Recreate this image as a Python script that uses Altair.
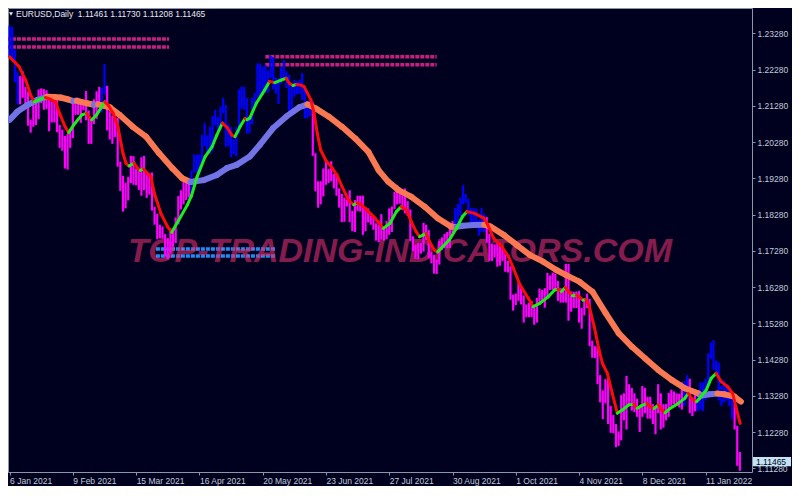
import altair as alt
import pandas as pd

# ---------------- data ----------------
# daily bars, index 0 = 6 Jan 2021 ... index 277 = 28 Jan 2022 (weekdays)
highs = [
    1.2349, 1.2345, 1.2283,
    1.2223, 1.2210, 1.2223, 1.2180, 1.2167,
    1.2090, 1.2145, 1.2138, 1.2173, 1.2176,
    1.2174, 1.2171, 1.2161, 1.2140, 1.2156,
    1.2144, 1.2075, 1.2062, 1.2045, 1.2050,
    1.2061, 1.2134, 1.2150, 1.2150, 1.2140,
    1.2145, 1.2169, 1.2115, 1.2095, 1.2146,
    1.2168, 1.2180, 1.2178, 1.2243, 1.2183,
    1.2113, 1.2100, 1.2113, 1.2095, 1.1974,
    1.1935, 1.1916, 1.1932, 1.1990, 1.1989,
    1.1955, 1.1952, 1.1986, 1.1990, 1.1943,
    1.1942, 1.1944, 1.1849, 1.1830, 1.1800,
    1.1795, 1.1774, 1.1763, 1.1791, 1.1789,
    1.1820, 1.1879, 1.1895, 1.1927, 1.1929,
    1.1919, 1.1949, 1.1994, 1.1993, 1.1994,
    1.2048, 1.2080, 1.2046, 1.2070, 1.2100,
    1.2117, 1.2097, 1.2126, 1.2150, 1.2130,
    1.2077, 1.2069, 1.2036, 1.2070, 1.2173,
    1.2181, 1.2180, 1.2150, 1.2096, 1.2150,
    1.2163, 1.2245, 1.2245, 1.2236, 1.2240,
    1.2225, 1.2266, 1.2262, 1.2206, 1.2204,
    1.2235, 1.2254, 1.2223, 1.2213, 1.2184,
    1.2200, 1.2196, 1.2199, 1.2218, 1.2180,
    1.2128, 1.2144, 1.2138, 1.1997, 1.1920,
    1.1920, 1.1955, 1.1975, 1.1954, 1.1975,
    1.1940, 1.1935, 1.1900, 1.1885, 1.1875,
    1.1870, 1.1895, 1.1838, 1.1868, 1.1880,
    1.1880, 1.1880, 1.1848, 1.1845, 1.1825,
    1.1821, 1.1804, 1.1800, 1.1829, 1.1790,
    1.1810, 1.1845, 1.1850, 1.1891, 1.1909,
    1.1892, 1.1884, 1.1900, 1.1865, 1.1842,
    1.1768, 1.1745, 1.1750, 1.1750, 1.1805,
    1.1800, 1.1785, 1.1725, 1.1717, 1.1703,
    1.1755, 1.1765, 1.1775, 1.1780, 1.1802,
    1.1810, 1.1846, 1.1857, 1.1875, 1.1909,
    1.1885, 1.1872, 1.1845, 1.1846, 1.1845,
    1.1813, 1.1846, 1.1830, 1.1821, 1.1775,
    1.1748, 1.1746, 1.1750, 1.1750, 1.1737,
    1.1720, 1.1700, 1.1685, 1.1607, 1.1610,
    1.1640, 1.1625, 1.1605, 1.1580, 1.1585,
    1.1590, 1.1575, 1.1598, 1.1624, 1.1620,
    1.1625, 1.1667, 1.1660, 1.1668, 1.1665,
    1.1645, 1.1625, 1.1620, 1.1692, 1.1692,
    1.1616, 1.1615, 1.1616, 1.1617, 1.1570,
    1.1595, 1.1610, 1.1595, 1.1480, 1.1465,
    1.1465, 1.1385, 1.1343, 1.1374, 1.1375,
    1.1300, 1.1275, 1.1250, 1.1230, 1.1330,
    1.1335, 1.1383, 1.1360, 1.1350, 1.1335,
    1.1320, 1.1295, 1.1355, 1.1350, 1.1325,
    1.1325, 1.1305, 1.1300, 1.1360, 1.1335,
    1.1305, 1.1305, 1.1336, 1.1345, 1.1340,
    1.1335, 1.1334, 1.1365, 1.1369, 1.1385,
    1.1375, 1.1320, 1.1345, 1.1330, 1.1365,
    1.1365, 1.1375, 1.1445, 1.1475, 1.1482,
    1.1425, 1.1420, 1.1355, 1.1370, 1.1360,
    1.1350, 1.1330, 1.1305, 1.1245, 1.1173,
]
lows = [
    1.2263, 1.2255, 1.2193,
    1.2132, 1.2132, 1.2150, 1.2128, 1.2073,
    1.2054, 1.2070, 1.2075, 1.2091, 1.2136,
    1.2117, 1.2119, 1.2058, 1.2082, 1.2082,
    1.2055, 1.2012, 1.2004, 1.1955, 1.1952,
    1.2012, 1.2039, 1.2103, 1.2103, 1.2081,
    1.2116, 1.2088, 1.2023, 1.2023, 1.2078,
    1.2092, 1.2131, 1.2110, 1.2160, 1.2060,
    1.2035, 1.2023, 1.2042, 1.1960, 1.1893,
    1.1836, 1.1845, 1.1867, 1.1915, 1.1910,
    1.1909, 1.1896, 1.1880, 1.1895, 1.1874,
    1.1883, 1.1839, 1.1800, 1.1760, 1.1762,
    1.1761, 1.1712, 1.1704, 1.1720, 1.1739,
    1.1749, 1.1801, 1.1842, 1.1856, 1.1868,
    1.1875, 1.1872, 1.1943, 1.1944, 1.1939,
    1.1972, 1.2017, 1.2000, 1.1995, 1.2003,
    1.2074, 1.2058, 1.2061, 1.2108, 1.2015,
    1.2016, 1.1986, 1.1995, 1.1988, 1.2050,
    1.2120, 1.2117, 1.2052, 1.2052, 1.2077,
    1.2129, 1.2150, 1.2152, 1.2163, 1.2165,
    1.2164, 1.2205, 1.2174, 1.2162, 1.2133,
    1.2188, 1.2200, 1.2177, 1.2104, 1.2103,
    1.2153, 1.2160, 1.2161, 1.2144, 1.2093,
    1.2093, 1.2100, 1.1990, 1.1892, 1.1847,
    1.1856, 1.1878, 1.1910, 1.1915, 1.1920,
    1.1900, 1.1880, 1.1847, 1.1807, 1.1808,
    1.1850, 1.1807, 1.1782, 1.1780, 1.1838,
    1.1836, 1.1772, 1.1782, 1.1806, 1.1800,
    1.1786, 1.1756, 1.1752, 1.1760, 1.1756,
    1.1760, 1.1772, 1.1780, 1.1843, 1.1856,
    1.1858, 1.1840, 1.1831, 1.1824, 1.1755,
    1.1727, 1.1706, 1.1705, 1.1720, 1.1726,
    1.1758, 1.1707, 1.1694, 1.1665, 1.1664,
    1.1690, 1.1730, 1.1735, 1.1735, 1.1736,
    1.1776, 1.1790, 1.1800, 1.1825, 1.1856,
    1.1860, 1.1825, 1.1805, 1.1800, 1.1800,
    1.1770, 1.1780, 1.1780, 1.1750, 1.1700,
    1.1700, 1.1710, 1.1684, 1.1687, 1.1700,
    1.1670, 1.1668, 1.1593, 1.1563, 1.1578,
    1.1590, 1.1580, 1.1530, 1.1545, 1.1545,
    1.1545, 1.1524, 1.1530, 1.1580, 1.1590,
    1.1571, 1.1600, 1.1620, 1.1620, 1.1618,
    1.1590, 1.1585, 1.1585, 1.1585, 1.1535,
    1.1560, 1.1570, 1.1570, 1.1530, 1.1513,
    1.1550, 1.1570, 1.1465, 1.1433, 1.1432,
    1.1360, 1.1310, 1.1264, 1.1307, 1.1250,
    1.1226, 1.1225, 1.1186, 1.1190, 1.1205,
    1.1260, 1.1235, 1.1300, 1.1287, 1.1283,
    1.1270, 1.1228, 1.1270, 1.1280, 1.1265,
    1.1265, 1.1250, 1.1222, 1.1280, 1.1235,
    1.1240, 1.1260, 1.1270, 1.1300, 1.1305,
    1.1300, 1.1296, 1.1290, 1.1300, 1.1320,
    1.1280, 1.1272, 1.1285, 1.1285, 1.1290,
    1.1286, 1.1315, 1.1355, 1.1430, 1.1400,
    1.1385, 1.1315, 1.1300, 1.1310, 1.1315,
    1.1300, 1.1265, 1.1235, 1.1135, 1.1121,
]
# bar index ranges drawn in blue (uptrend); others magenta
blue_runs = [(0, 3), (35, 36), (69, 114), (169, 180), (256, 257), (261, 274)]

# fast line (red falling / green rising)
fast_idx = [0, 3.6, 6.1, 8, 9.3, 11.5, 13.6, 15.5, 17.4, 19.2, 21.1, 22.4, 24.3, 27.4,
            29.2, 31.1, 33, 36.1, 37.4, 39.3, 41.1, 43, 44.2, 45.3, 47.2, 48.7, 49.6,
            50.8, 52.5, 53.6, 54.9, 57.4, 59.9, 61.5, 64.2, 67.4, 69, 71.1, 74.2, 76.8,
            78.6, 80.7, 82.5, 84.3, 85.5, 87.4, 89.3, 90.1, 91.1, 93.6, 96.8, 98.6,
            100.6, 103, 104.9, 106.1, 107.5, 108.9, 110.5, 111.7, 113, 114.3, 115.5,
            116.7, 118, 119.9, 122.4, 124.2, 126.1, 128.6, 130.5, 131.8, 133, 134.9,
            138.6, 140, 141.75, 144.3, 146.7, 148.6, 150.5, 152.4, 154.2, 155.5, 157,
            158, 159.3, 161.1, 162.4, 164.9, 166.8, 169.9, 171.75, 173.4, 176.1, 179.9,
            181.1, 183.6, 186.75, 189.25, 191.1, 193.6, 196.75, 198.6, 201.1, 204.25,
            206.75, 208, 209.25, 210.75, 211.75, 213.5, 215, 216.1, 217.5, 218.6, 219.9,
            221.75, 223.6, 224.9, 226.75, 228.6, 230.5, 232.4, 234.9, 236.75, 238,
            239.5, 241.75, 243, 244.5, 246.1, 247.4, 248.6, 250.5, 253.6, 256.1, 257.4,
            259, 260.5, 261.75, 264.25, 266.1, 268, 269.9, 272.4, 274.25, 275.5, 277.1]
fast_val = [1.2263, 1.2236, 1.2199, 1.2158, 1.2139, 1.2146, 1.2151, 1.2146, 1.2139,
            1.2103, 1.2070, 1.2054, 1.2075, 1.2103, 1.2107, 1.2089, 1.2103, 1.2139,
            1.2130, 1.2107, 1.2070, 1.1997, 1.1969, 1.1962, 1.1970, 1.1955, 1.1950,
            1.1954, 1.1940, 1.1932, 1.1887, 1.1831, 1.1795, 1.1779, 1.1813, 1.1854,
            1.1880, 1.1932, 1.1988, 1.2015, 1.2047, 1.2080, 1.2068, 1.2047, 1.2043,
            1.2070, 1.2093, 1.2090, 1.2094, 1.2135, 1.2172, 1.2195, 1.2192, 1.2199,
            1.2204, 1.2190, 1.2184, 1.2187, 1.2185, 1.2181, 1.2163, 1.2144, 1.2107,
            1.2052, 1.2006, 1.1978, 1.1956, 1.1937, 1.1905, 1.1868, 1.1855, 1.1860,
            1.1858, 1.1845, 1.1818, 1.1806, 1.1790, 1.1804, 1.1836, 1.1850, 1.1841,
            1.1808, 1.1781, 1.1767, 1.1772, 1.1776, 1.1753, 1.1730, 1.1725, 1.1744,
            1.1758, 1.1795, 1.1822, 1.1836, 1.1832, 1.1818, 1.1804, 1.1763, 1.1739,
            1.1712, 1.1680, 1.1634, 1.1597, 1.1574, 1.1583, 1.1601, 1.1620, 1.1622,
            1.1615, 1.1627, 1.1618, 1.1604, 1.1606, 1.1601, 1.1592, 1.1594, 1.1574,
            1.1519, 1.1454, 1.1417, 1.1390, 1.1335, 1.1280, 1.1289, 1.1303, 1.1305,
            1.1293, 1.1300, 1.1307, 1.1298, 1.1293, 1.1303, 1.1289, 1.1281, 1.1293,
            1.1307, 1.1321, 1.1335, 1.1318, 1.1312, 1.1321, 1.1344, 1.1376, 1.1390,
            1.1367, 1.1353, 1.1335, 1.1298, 1.1252]

# slow line (salmon falling / slate blue rising)
slow_idx = [0, 3, 6.75, 10.5, 14.25, 17, 19.25, 22, 24.25, 25.5, 27, 29.25, 32, 33.6,
            35, 38, 41.75, 46.75, 51.75, 56.75, 61.75, 65.5, 68.6, 70, 73.6, 78.6,
            82.4, 86.1, 91.1, 94.9, 99.9, 104.9, 109.9, 113, 116.1, 121.1, 126.1,
            131.1, 136.1, 140, 143.6, 147.4, 152.4, 157.4, 162.4, 167.4, 169.5, 172,
            176, 180, 182.4, 187.4, 192.4, 197.4, 202.4, 207.4, 211.1, 216.1, 221.1,
            226.1, 231.1, 236.1, 241.1, 246.1, 251.1, 256.1, 261.1, 262.4, 265.5,
            268.5, 271.1, 274.9, 277.4]
slow_val = [1.2089, 1.2112, 1.2130, 1.2144, 1.2153, 1.2152, 1.2151, 1.2146, 1.2141,
            1.2142, 1.2139, 1.2135, 1.2131, 1.2132, 1.2129, 1.2124, 1.2103, 1.2070,
            1.2043, 1.1997, 1.1956, 1.1928, 1.1918, 1.1919, 1.1923, 1.1937, 1.1956,
            1.1965, 1.1988, 1.2020, 1.2066, 1.2098, 1.2124, 1.2132, 1.2121, 1.2098,
            1.2070, 1.2038, 1.2001, 1.1950, 1.1919, 1.1896, 1.1877, 1.1850, 1.1818,
            1.1795, 1.1794, 1.1797, 1.1799, 1.1800, 1.1795, 1.1772, 1.1744, 1.1716,
            1.1698, 1.1675, 1.1661, 1.1643, 1.1615, 1.1556, 1.1500, 1.1463, 1.1431,
            1.1399, 1.1372, 1.1349, 1.1335, 1.1329, 1.1332, 1.1334, 1.1332, 1.1326,
            1.1312]

# horizontal indicator levels
level_price = [1.23123, 1.22902, 1.22635, 1.22414, 1.17330, 1.17137]
level_from = [-1.0, -1.0, 97.0, 97.0, 55.5, 55.5]
level_to = [60.5, 60.5, 162.0, 162.0, 100.8, 100.8]
level_kind = ["res", "res", "res", "res", "sup", "sup"]

tick_bars = [0, 24, 48, 72, 96, 120, 144, 168, 192, 216, 240, 264]
tick_labels = ["6 Jan 2021", "9 Feb 2021", "15 Mar 2021", "16 Apr 2021", "20 May 2021",
               "23 Jun 2021", "27 Jul 2021", "30 Aug 2021", "1 Oct 2021", "4 Nov 2021",
               "8 Dec 2021", "11 Jan 2022"]
price_ticks = [1.1128, 1.1228, 1.1328, 1.1428, 1.1528, 1.1628, 1.1728, 1.1828,
               1.1928, 1.2028, 1.2128, 1.2228, 1.2328]
last_close = 1.11465
title_text = "EURUSD,Daily\u00a0 1.11461 1.11730 1.11208 1.11465"
watermark = "TOP-TRADING-INDICATORS.COM"

# ---------------- styling ----------------
BG = "#00001f"
FRAME = "#8898a8"
LABEL = "#c0ccd8"
FONT = "Liberation Sans"
W, H = 744, 464

xs = alt.Scale(domain=[-0.6, 281.6], nice=False, zero=False)
ys = alt.Scale(domain=[1.23978 - H / 3625.0, 1.23978], nice=False, zero=False)

bars = pd.DataFrame({"i": list(range(len(highs))), "hi": highs, "lo": lows})
bars["c"] = ["#0000ff" if any(a <= i <= b for a, b in blue_runs) else "#ff00ff"
             for i in bars["i"]]


def segments(idx, val, up, down):
    rows = []
    for k in range(len(idx) - 1):
        c = up if val[k + 1] > val[k] else down
        rows.append({"seg": k, "i": idx[k], "p": val[k], "c": c})
        rows.append({"seg": k, "i": idx[k + 1], "p": val[k + 1], "c": c})
    return pd.DataFrame(rows)


fast = segments(fast_idx, fast_val, "#19f019", "#ff0a0a")
slow = segments(slow_idx, slow_val, "#7373e8", "#fa7852")

levels = pd.DataFrame({"p": level_price, "a": level_from, "b": level_to, "k": level_kind})
levels["c"] = ["#c81e82" if k == "res" else "#1e8cf5" for k in levels["k"]]

label_expr = "[" + ",".join("'%s'" % t for t in tick_labels) + "][round(datum.value/24)]"

AX = dict(labelFont=FONT, labelFontSize=8.5, labelColor=LABEL, tickColor=FRAME,
          domain=False, grid=False, title=None, labelOverlap=False, labelBound=False)
xaxis = alt.Axis(values=tick_bars, labelExpr=label_expr, orient="bottom",
                 labelAlign="left", labelBaseline="top", labelPadding=1, tickSize=3,
                 labelFlush=False, **AX)
yaxis = alt.Axis(values=price_ticks, format=".5f", orient="right",
                 labelAlign="left", labelBaseline="middle", labelPadding=2, tickSize=3,
                 **AX)


def X(f):
    return alt.X(f, type="quantitative", scale=xs, axis=xaxis)


def Y(f):
    return alt.Y(f, type="quantitative", scale=ys, axis=yaxis)


lvl = alt.Chart(levels).mark_rule(strokeWidth=3.4, strokeDash=[4, 1]).encode(
    x=X("a"), x2="b", y=Y("p"), color=alt.Color("c:N", scale=None))

wm = alt.Chart(pd.DataFrame({"t": [watermark]})).mark_text(
    font=FONT, fontSize=34, fontStyle="italic", fontWeight="bold",
    color="#e0306e", opacity=0.6, align="center", baseline="alphabetic").encode(
    x=alt.value(392), y=alt.value(254), text="t:N")

bar_layer = alt.Chart(bars).mark_rule(strokeWidth=2.2).encode(
    x=X("i"), y=Y("lo"), y2="hi", color=alt.Color("c:N", scale=None))

slow_layer = alt.Chart(slow).mark_line(strokeWidth=6, strokeCap="round").encode(
    x=X("i"), y=Y("p"), detail="seg:N", order="i:Q", color=alt.Color("c:N", scale=None))

fast_layer = alt.Chart(fast).mark_line(strokeWidth=3, strokeCap="round").encode(
    x=X("i"), y=Y("p"), detail="seg:N", order="i:Q", color=alt.Color("c:N", scale=None))

box = pd.DataFrame({"hi": [last_close + 0.00125], "lo": [last_close - 0.00125],
                    "p": [last_close], "t": ["%.5f" % last_close]})
box_rect = alt.Chart(box).mark_rect(color="#c4e4f4").encode(
    x=alt.value(W + 1), x2=alt.value(W + 39), y=Y("hi"), y2="lo")
box_text = alt.Chart(box).mark_text(font=FONT, fontSize=8.5, color="#000020",
                                    align="left", baseline="middle").encode(
    x=alt.value(W + 4), y=Y("p"), text="t:N")

title = alt.Chart(pd.DataFrame({"t": [title_text]})).mark_text(
    font=FONT, fontSize=8.5, color="#e8e8e8", align="left", baseline="top").encode(
    x=alt.value(8), y=alt.value(2), text="t:N")
tri = alt.Chart(pd.DataFrame({"t": [0]})).mark_point(
    shape="triangle-down", filled=True, size=16, color="#e8e8e8", opacity=1).encode(
    x=alt.value(3), y=alt.value(6))

chart = alt.layer(lvl, wm, bar_layer, slow_layer, fast_layer, box_rect, box_text,
                  title, tri).properties(
    width=W, height=H, background=BG,
    padding={"left": 0, "top": 0, "right": 40, "bottom": 14},
    autosize=alt.AutoSizeParams(type="none")
).configure_view(stroke=FRAME, strokeWidth=1)

chart.save("out.html", embed_options={"renderer": "svg", "actions": False})
